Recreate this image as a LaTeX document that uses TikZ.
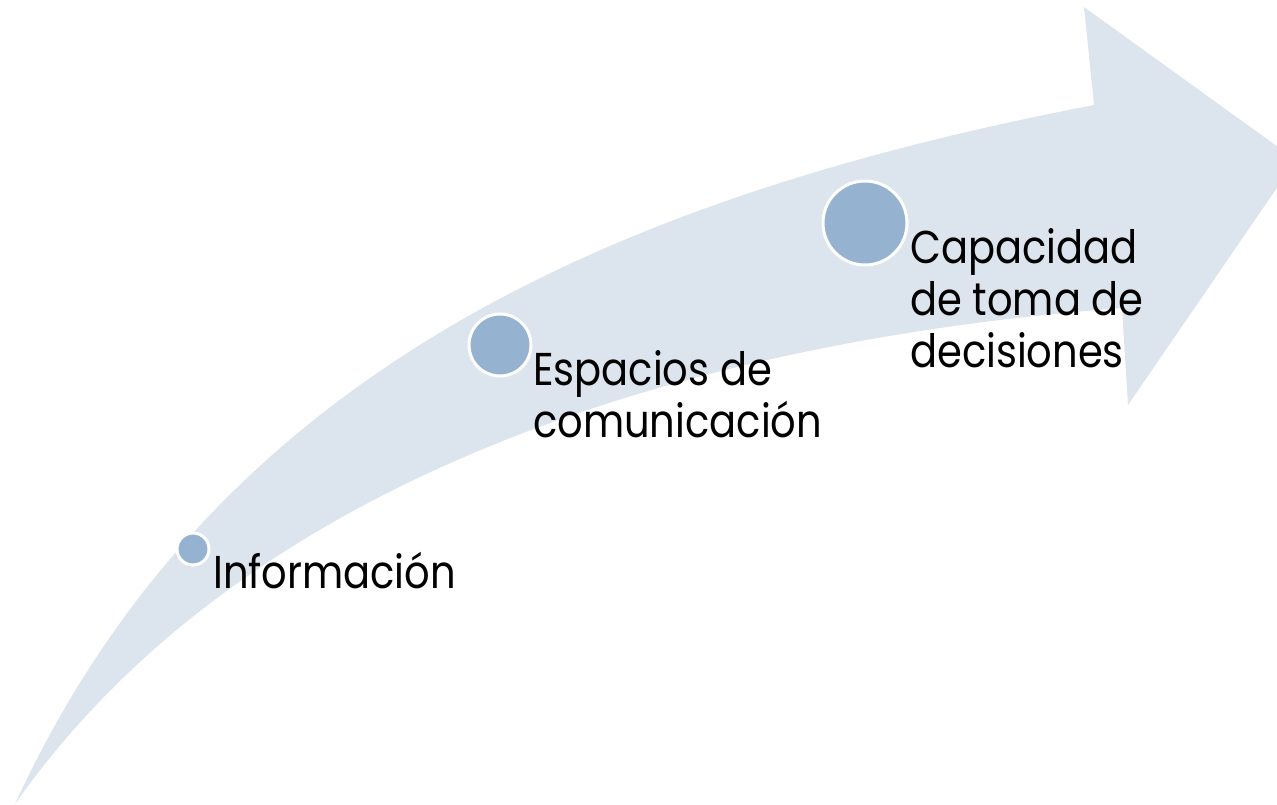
\documentclass[tikz,border=0pt]{standalone}
\usepackage{fontspec}
\newfontfamily\twfont[FakeStretch=0.87]{Poppins}
\definecolor{arrowfill}{HTML}{DCE4EE}
\definecolor{dotfill}{HTML}{95B3D0}
\tikzset{
  dot/.style={circle, fill=dotfill, draw=white, line width=3pt, inner sep=0pt},
  lbl/.style={anchor=base west, inner sep=0pt, align=left,
    font=\twfont\fontsize{46}{52}\selectfont, text=black},
}
\begin{document}
\begin{tikzpicture}[x=1pt,y=-1pt]
\useasboundingbox (0,0) rectangle (1277,805);
\begin{scope}
\clip (0,0) rectangle (1277,805);
\fill[arrowfill] (15,804) .. controls (210,380) and (600,200) .. (1094,105)
  -- (1084,7) -- (1296,160) -- (1128,405) -- (1122,308)
  .. controls (700,340) and (250,470) .. (15,804) -- cycle;
\end{scope}
\node[dot, minimum size=32pt] (d1) at (193,549) {};
\node[dot, minimum size=62pt] (d2) at (500,345) {};
\node[dot, minimum size=84pt] (d3) at (865,223) {};
\node[lbl] (t1) at (213,588) {Información};
\node[lbl] (t2) at (533,437) {Espacios de\\comunicación};
\node[lbl] (t3) at (910,367) {Capacidad\\de toma de\\decisiones};
\end{tikzpicture}
\end{document}
